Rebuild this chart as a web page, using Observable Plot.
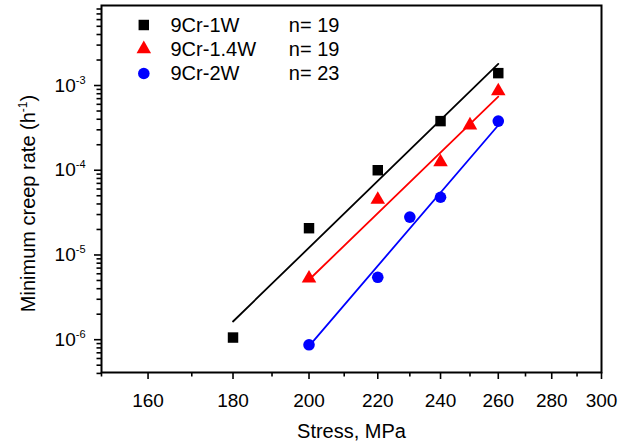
<!DOCTYPE html>
<html><head><meta charset="utf-8">
<script src="https://cdn.jsdelivr.net/npm/d3@7"></script>
<script src="https://cdn.jsdelivr.net/npm/@observablehq/plot@0.6"></script>
<style>
body{margin:0;background:#fff}
svg{font-family:"Liberation Sans",Arial,Helvetica,sans-serif}
</style>
</head><body><div id="chart"></div>
<script>
// ---- data ----
const alloys = ["9Cr-1W", "9Cr-1.4W", "9Cr-2W"];
const nLabels = ["n= 19", "n= 19", "n= 23"];
const colors = ["#000000", "#ff0000", "#0000ff"];
const symbols = ["square", "triangle", "circle"];

const stress1W = [180, 200, 220, 240, 260];
const rate1W   = [1.06e-6, 2.07e-5, 1.0e-4, 3.8e-4, 1.4e-3];
const stress14W = [200, 220, 240, 250, 260];
const rate14W   = [5.3e-6, 4.5e-5, 1.25e-4, 3.4e-4, 8.6e-4];
const stress2W = [200, 220, 230, 240, 260];
const rate2W   = [8.7e-7, 5.45e-6, 2.8e-5, 4.8e-5, 3.8e-4];

// fitted power-law lines (end points)
const fitStress1W = [180, 260];  const fitRate1W  = [1.64e-6, 1.8e-3];
const fitStress14W = [200, 260]; const fitRate14W = [5.1e-6, 7.4e-4];
const fitStress2W = [200, 260];  const fitRate2W  = [8.4e-7, 3.4e-4];

const xMajorTicks = [160, 180, 200, 220, 240, 260, 280, 300];
const xMinorTicks = [150, 170, 190, 210, 230, 250, 270, 290];
const yMajorTicks = [1e-6, 1e-5, 1e-4, 1e-3];
const yTickExponents = ["-6", "-5", "-4", "-3"];
const yMinorTicks = [4e-7, 5e-7, 6e-7, 7e-7, 8e-7, 9e-7,
  2e-6, 3e-6, 4e-6, 5e-6, 6e-6, 7e-6, 8e-6, 9e-6,
  2e-5, 3e-5, 4e-5, 5e-5, 6e-5, 7e-5, 8e-5, 9e-5,
  2e-4, 3e-4, 4e-4, 5e-4, 6e-4, 7e-4, 8e-4, 9e-4,
  2e-3, 3e-3, 4e-3, 5e-3, 6e-3, 7e-3, 8e-3];
const legendRowY = [24.5, 48.5, 73];

// ---- build ----
const series = [
  {pts: stress1W.map((s, i) => ({s, r: rate1W[i]})), fit: fitStress1W.map((s, i) => ({s, r: fitRate1W[i]}))},
  {pts: stress14W.map((s, i) => ({s, r: rate14W[i]})), fit: fitStress14W.map((s, i) => ({s, r: fitRate14W[i]}))},
  {pts: stress2W.map((s, i) => ({s, r: rate2W[i]})), fit: fitStress2W.map((s, i) => ({s, r: fitRate2W[i]}))}
];
const radii = [5.9, 5.4, 5.8];
const FONT = "Liberation Sans, Arial, sans-serif";
const marginLeft = 101, marginTop = 5;

const marks = [];
series.forEach((se, i) => {
  marks.push(Plot.line(se.fit, {x: "s", y: "r", stroke: colors[i], strokeWidth: 1.8}));
});
series.forEach((se, i) => {
  marks.push(Plot.dot(se.pts, {x: "s", y: "r", symbol: symbols[i], fill: colors[i], stroke: "none", r: radii[i]}));
});
// legend
alloys.forEach((name, i) => {
  marks.push(Plot.dot([name], {frameAnchor: "top-left", dx: 143.3 - marginLeft, dy: legendRowY[i] - marginTop,
    symbol: symbols[i], fill: colors[i], stroke: "none", r: radii[i]}));
  marks.push(Plot.text([name], {text: d => d, frameAnchor: "top-left", dx: 170 - marginLeft, dy: legendRowY[i] - marginTop + 0.5,
    textAnchor: "start", lineAnchor: "middle", fontSize: 20, fill: "black"}));
  marks.push(Plot.text([nLabels[i]], {text: d => d, frameAnchor: "top-left", dx: 288.3 - marginLeft, dy: legendRowY[i] - marginTop + 0.5,
    textAnchor: "start", lineAnchor: "middle", fontSize: 20, fill: "black"}));
});
// axes
marks.push(Plot.axisX(xMajorTicks, {tickSize: 7, tickPadding: 14, strokeWidth: 1.6, tickFormat: d => String(d), fontSize: 19, label: null}));
marks.push(Plot.axisX(xMinorTicks, {tickSize: 4.5, strokeWidth: 1.6, tickFormat: null, text: null, label: null}));
marks.push(Plot.axisY(yMajorTicks, {tickSize: 7, tickPadding: 9, strokeWidth: 1.6,
  tickFormat: d => "10^" + yTickExponents[yMajorTicks.indexOf(d)], fontSize: 19, label: null}));
marks.push(Plot.axisY(yMinorTicks, {tickSize: 4.5, strokeWidth: 1.6, tickFormat: null, text: null, label: null}));
marks.push(Plot.frame({stroke: "black", strokeWidth: 2}));
// titles
marks.push(Plot.text(["Stress, MPa"], {text: d => d, frameAnchor: "bottom", dy: 59, lineAnchor: "middle", fontSize: 20, fill: "black"}));
marks.push(Plot.text(["Minimum creep rate (h^-1)"], {text: d => d, frameAnchor: "left", dx: -73, dy: 14.5, rotate: -90,
  textAnchor: "middle", lineAnchor: "middle", fontSize: 20, fill: "black"}));

const chart = Plot.plot({
  width: 631, height: 443,
  marginLeft, marginRight: 30, marginTop, marginBottom: 71,
  x: {type: "log", domain: [150, 300]},
  y: {type: "log", domain: [4.1e-7, 8.8e-3]},
  style: {fontFamily: FONT, fontSize: "19px", color: "black", background: "white"},
  marks
});

// superscripts
chart.querySelectorAll("text").forEach(t => {
  const s = t.textContent;
  let m = s.match(/^10\^(-?\d+)$/);
  if (m) {
    t.textContent = "10";
    const sp = document.createElementNS("http://www.w3.org/2000/svg", "tspan");
    sp.setAttribute("dy", "-8"); sp.setAttribute("font-size", "11"); sp.textContent = m[1];
    t.appendChild(sp);
    return;
  }
  m = s.match(/^(.*)\(h\^(-?\d+)\)$/);
  if (m) {
    t.textContent = m[1] + "(h";
    const sp = document.createElementNS("http://www.w3.org/2000/svg", "tspan");
    sp.setAttribute("dy", "-8"); sp.setAttribute("font-size", "12"); sp.textContent = m[2];
    const sp2 = document.createElementNS("http://www.w3.org/2000/svg", "tspan");
    sp2.setAttribute("dy", "8"); sp2.textContent = ")";
    t.appendChild(sp); t.appendChild(sp2);
  }
});
document.getElementById("chart").appendChild(chart);
</script>
</body></html>
